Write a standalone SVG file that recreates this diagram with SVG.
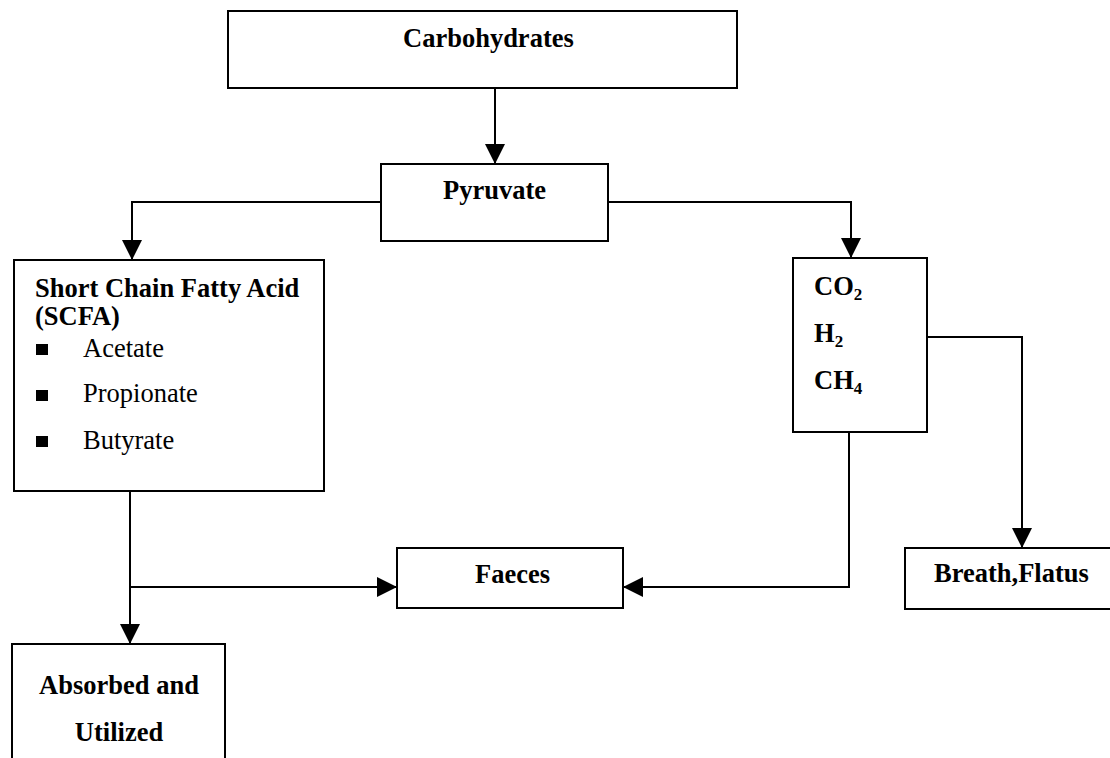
<svg xmlns="http://www.w3.org/2000/svg" width="1110" height="758" viewBox="0 0 1110 758">
<style>
.box{fill:#fff;stroke:#000;stroke-width:2}
.b{font-family:"Liberation Serif","Times New Roman",serif;font-weight:bold;font-size:26.5px;fill:#000}
.r{font-family:"Liberation Serif","Times New Roman",serif;font-size:26.5px;fill:#000}
.c{fill:none;stroke:#000;stroke-width:2}
.sub{font-size:17px}
</style>
<defs>
<marker id="arr" viewBox="0 0 20 20" refX="20" refY="10" markerWidth="20" markerHeight="20" markerUnits="userSpaceOnUse" orient="auto">
<path d="M0,0 L20,10 L0,20 z" fill="#000"/>
</marker>
</defs>
<rect width="1110" height="758" fill="#fff"/>
<g id="connectors">
<path class="c" d="M495,88 V164" marker-end="url(#arr)"/>
<path class="c" d="M381,202 H132 V260" marker-end="url(#arr)"/>
<path class="c" d="M608,202 H851 V258" marker-end="url(#arr)"/>
<path class="c" d="M130,491 V644" marker-end="url(#arr)"/>
<path class="c" d="M130,587 H397" marker-end="url(#arr)"/>
<path class="c" d="M849,432 V587 H623" marker-end="url(#arr)"/>
<path class="c" d="M927,337 H1022 V548" marker-end="url(#arr)"/>
</g>
<g id="carbohydrates">
<rect class="box" x="228" y="11" width="509" height="77"/>
<text class="b" x="403" y="47">Carbohydrates</text>
</g>
<g id="pyruvate">
<rect class="box" x="381" y="164" width="227" height="77"/>
<text class="b" x="443" y="199">Pyruvate</text>
</g>
<g id="scfa">
<rect class="box" x="14" y="260" width="310" height="231"/>
<text class="b" x="35" y="297">Short Chain Fatty Acid</text>
<text class="b" x="35" y="325">(SCFA)</text>
<rect x="36" y="344" width="12" height="11" fill="#000"/>
<text class="r" x="83" y="357">Acetate</text>
<rect x="36" y="390" width="12" height="11" fill="#000"/>
<text class="r" x="83" y="402">Propionate</text>
<rect x="36" y="436" width="12" height="11" fill="#000"/>
<text class="r" x="83" y="449">Butyrate</text>
</g>
<g id="gases">
<rect class="box" x="793" y="258" width="134" height="174"/>
<text class="b" x="814" y="295">CO<tspan class="sub" dy="5">2</tspan></text>
<text class="b" x="814" y="342">H<tspan class="sub" dy="5">2</tspan></text>
<text class="b" x="814" y="389">CH<tspan class="sub" dy="5">4</tspan></text>
</g>
<g id="faeces">
<rect class="box" x="397" y="548" width="226" height="60"/>
<text class="b" x="475" y="583">Faeces</text>
</g>
<g id="breath">
<rect class="box" x="905" y="548" width="215" height="61"/>
<text class="b" x="934" y="582">Breath,Flatus</text>
</g>
<g id="absorbed">
<rect class="box" x="12" y="644" width="213" height="130"/>
<text class="b" x="119" y="694" text-anchor="middle">Absorbed and</text>
<text class="b" x="119" y="741" text-anchor="middle">Utilized</text>
</g>
</svg>
